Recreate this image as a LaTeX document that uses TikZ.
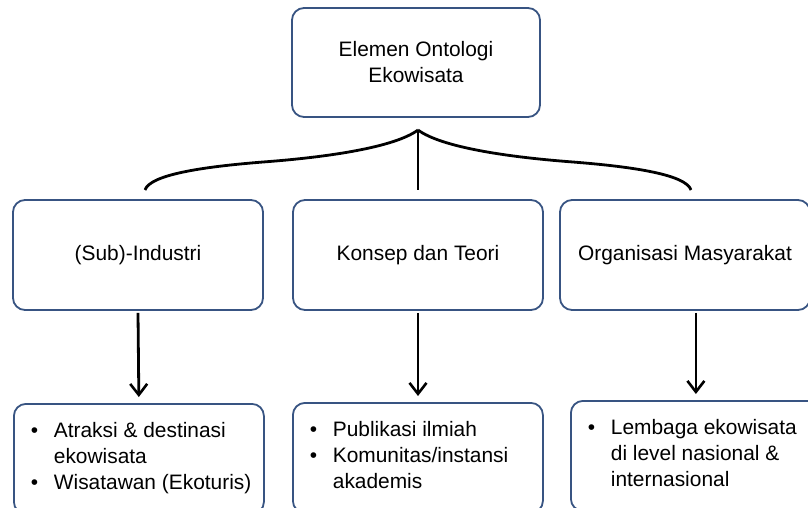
\documentclass[tikz,border=0pt]{standalone}
\usepackage{fontspec}
\setmainfont{Liberation Sans}
\usetikzlibrary{arrows.meta}
\definecolor{garisbiru}{RGB}{56,84,130}
\newcommand{\isikotak}[1]{\parbox[c][110pt][t]{250pt}{\vspace{15pt}\hspace*{17pt}%
  \begin{tabular}[t]{@{}p{23pt}@{}l@{}}#1\end{tabular}}}

\begin{document}
\begin{tikzpicture}[x=1pt,y=-1pt,
  kotak/.style={draw=garisbiru,line width=1.8pt,rounded corners=12pt,fill=white,
    inner sep=0pt,align=center,font=\fontsize{20.9}{26}\selectfont},
  hubung/.style={line width=2.8pt,black},
  panah/.style={hubung,shorten >=6pt,-{Straight Barb[length=11pt,width=17pt,line width=2.6pt]}}]
		\useasboundingbox (0,0) rectangle (808,508);
		\clip (0,0) rectangle (808,508);
		\node[kotak,minimum width=248pt,minimum height=109pt] (elemen) at (416,62.5) {Elemen Ontologi\\Ekowisata};
		\node[kotak,minimum width=250pt,minimum height=110pt] (industri) at (138,255) {(Sub)-Industri};
		\node[kotak,minimum width=250pt,minimum height=110pt] (konsep) at (418,255) {Konsep dan Teori};
		\node[kotak,minimum width=250pt,minimum height=110pt] (masyarakat) at (685,255) {Organisasi Masyarakat};
		\node[kotak,anchor=north west] (atraksi) at (13,403) {\isikotak{\textbullet & Atraksi \& destinasi\\ & ekowisata\\ \textbullet & Wisatawan (Ekoturis)}};
		\node[kotak,anchor=north west] (publikasi) at (292,402) {\isikotak{\textbullet & Publikasi ilmiah\\ \textbullet & Komunitas/instansi\\ & akademis}};
		\node[kotak,anchor=north west] (lembaga) at (570,400) {\isikotak{\textbullet & Lembaga ekowisata\\ & di level nasional \&\\ & internasional}};
		\coordinate (pucuk) at (418,130);
		\coordinate (kiri) at (145,190);
		\coordinate (kanan) at (691,190);
		\coordinate (tengah) at (418,190);
		\draw[hubung] (pucuk) .. controls (395,147) and (330,157) .. (263,162) .. controls (200,167) and (150,175) .. (kiri);
		\draw[hubung] (pucuk) .. controls (441,147) and (506,157) .. (573,162) .. controls (636,167) and (686,175) .. (kanan);
		\draw[hubung] (pucuk) -- (tengah);
		\draw[panah] ([yshift=-2pt]industri.south) -- (atraksi.north);
		\draw[panah] ([yshift=-2pt]konsep.south) -- (publikasi.north -| konsep.south);
		\draw[panah] ([yshift=-2pt]lembaga.north |- masyarakat.south) -- (lembaga.north);
\end{tikzpicture}
\end{document}
